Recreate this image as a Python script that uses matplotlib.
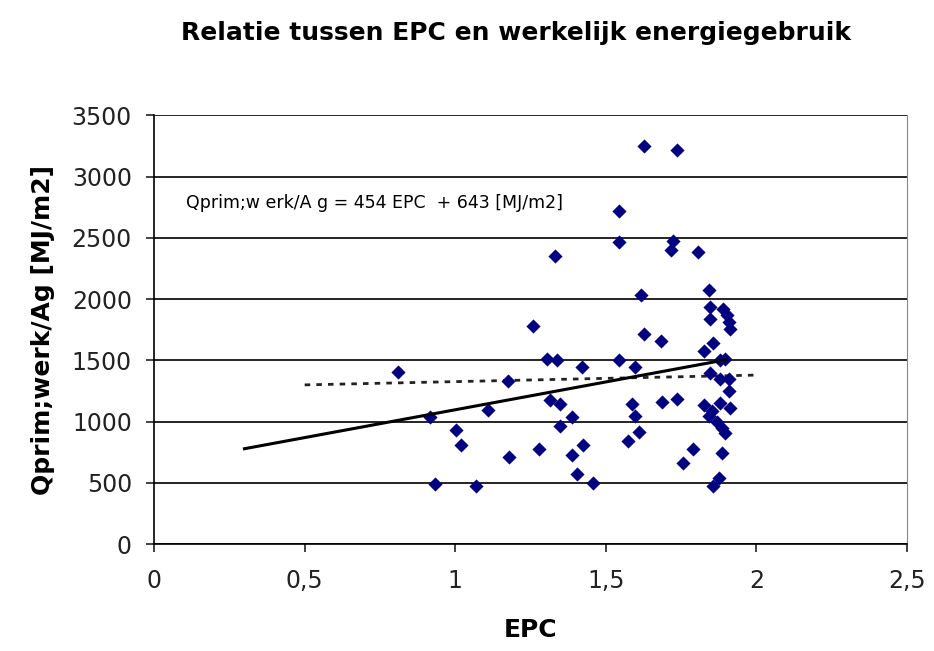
import matplotlib.pyplot as plt
from matplotlib.ticker import FuncFormatter

plt.rcParams['font.family'] = ['DejaVu Sans']

epc = [0.811, 0.917, 0.934, 1.003, 1.020, 1.070, 1.110, 1.176, 1.179, 1.259,
       1.279, 1.306, 1.339, 1.316, 1.349, 1.332, 1.349, 1.389, 1.389, 1.405,
       1.425, 1.422, 1.458, 1.545, 1.545, 1.545, 1.628, 1.738, 1.724, 1.718,
       1.807, 1.844, 1.618, 1.847, 1.890, 1.904, 1.847, 1.910, 1.914, 1.628,
       1.684, 1.857, 1.827, 1.598, 1.880, 1.897, 1.847, 1.880, 1.910, 1.910,
       1.588, 1.688, 1.738, 1.827, 1.880, 1.914, 1.598, 1.844, 1.854, 1.870,
       1.887, 1.897, 1.611, 1.575, 1.791, 1.757, 1.887, 1.877, 1.857]
qprim = [1402, 1037, 494, 932, 810, 478, 1094, 1329, 713, 1783,
         778, 1515, 1507, 1175, 1143, 2350, 964, 1037, 729, 575,
         810, 1443, 502, 2715, 2464, 1499, 3250, 3217, 2472, 2399,
         2383, 2075, 2034, 1937, 1921, 1872, 1840, 1815, 1759, 1718,
         1661, 1645, 1580, 1443, 1507, 1515, 1394, 1345, 1345, 1248,
         1143, 1159, 1183, 1135, 1151, 1110, 1045, 1045, 1086, 997,
         948, 908, 916, 843, 778, 665, 746, 543, 478]

# trend line: Q = 454 EPC + 643, drawn from 0.3 to 1.9
slope, intercept = 454, 643
trend_x = [0.3, 1.9]

# dotted reference line
ref_x = [0.5, 2.0]
ref_y = [1300, 1380]

fig = plt.figure(figsize=(9.34, 6.51), dpi=100)
ax = fig.add_axes([0.165, 0.164, 0.806, 0.659])

ax.scatter(epc, qprim, marker='D', s=52, color='#000080', zorder=3, linewidths=0)
ax.plot(trend_x, [slope * v + intercept for v in trend_x], color='black', lw=2.2, zorder=4)
ax.plot(ref_x, ref_y, color='#222222', lw=2, linestyle=(0, (2, 2.2)), zorder=2)

ax.set_xlim(0, 2.5)
ax.set_ylim(0, 3500)
ax.set_xticks([0, 0.5, 1, 1.5, 2, 2.5])
ax.set_yticks(range(0, 3501, 500))
ax.xaxis.set_major_formatter(FuncFormatter(lambda v, p: ('%g' % v).replace('.', ',')))
ax.yaxis.grid(True, color='black', lw=1.2)
ax.set_axisbelow(True)

ax.spines['right'].set_color('#888888')
ax.spines['top'].set_visible(False)
ax.spines['left'].set_linewidth(1.2)
ax.spines['bottom'].set_linewidth(1.2)
ax.tick_params(direction='out', length=6, width=1.2, labelsize=17, colors='#222222')
ax.tick_params(axis='x', pad=12)
ax.tick_params(axis='y', pad=10)

ax.text(0.105, 2780, 'Qprim;w erk/A g = 454 EPC  + 643 [MJ/m2]', fontsize=12.5, va='center')

ax.set_xlabel('EPC', fontsize=18, fontweight='bold', labelpad=18)
ax.set_ylabel('Qprim;werk/Ag [MJ/m2]', fontsize=18, fontweight='bold', labelpad=12)
fig.suptitle('Relatie tussen EPC en werkelijk energiegebruik', fontsize=18,
             fontweight='semibold', y=0.967, x=0.552)

fig.savefig('out.png', dpi=100)
